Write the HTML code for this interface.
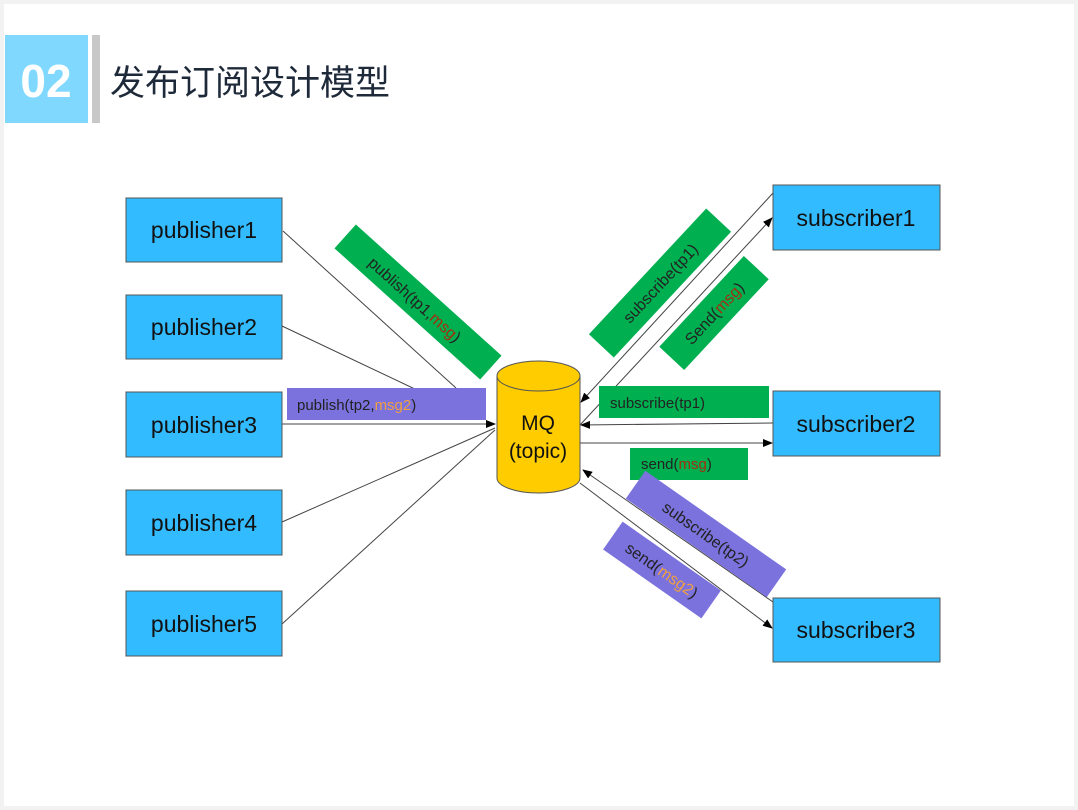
<!DOCTYPE html>
<html><head><meta charset="utf-8"><style>
html,body{margin:0;padding:0;background:#fff;}
svg{display:block;font-family:"Liberation Sans",Arial,sans-serif;}
</style></head><body>
<svg width="1078" height="810" viewBox="0 0 1078 810" xmlns="http://www.w3.org/2000/svg">
<defs>
<marker id="a" markerWidth="10" markerHeight="8" refX="9" refY="4" orient="auto" markerUnits="userSpaceOnUse"><path d="M0,0 L10,4 L0,8 z" fill="#000"/></marker>
</defs>
<rect x="0" y="0" width="1078" height="810" fill="#f2f2f2"/>
<rect x="4" y="4" width="1070" height="802" fill="#fff"/>
<rect x="5" y="35" width="83" height="88" fill="#80d8ff"/>
<rect x="92" y="35" width="8" height="88" fill="#c8c8c8"/>
<text x="46" y="97" font-size="46" font-weight="bold" fill="#fff" text-anchor="middle" font-family="Liberation Sans, sans-serif">02</text>
<text x="110" y="95" font-size="35" fill="#1e2a3a" font-family="Liberation Sans, Noto Sans CJK SC, sans-serif">发布订阅设计模型</text>

<g stroke="#444" stroke-width="1" fill="none">
<line x1="283" y1="231" x2="456" y2="388"/>
<line x1="282" y1="326" x2="417" y2="390"/>
<line x1="282" y1="424" x2="495" y2="424" marker-end="url(#a)"/>
<line x1="282" y1="522" x2="495" y2="428"/>
<line x1="282" y1="624" x2="495" y2="430"/>
<line x1="773" y1="193" x2="581" y2="402" marker-end="url(#a)"/>
<line x1="580" y1="425" x2="772" y2="218" marker-end="url(#a)"/>
<line x1="773" y1="423" x2="581" y2="425" marker-end="url(#a)"/>
<line x1="580" y1="443" x2="772" y2="443" marker-end="url(#a)"/>
<line x1="773" y1="602" x2="583" y2="470" marker-end="url(#a)"/>
<line x1="580" y1="483" x2="772" y2="628" marker-end="url(#a)"/>
</g>

<g fill="#33bbff" stroke="#555" stroke-width="1">
<rect x="126" y="198" width="156" height="64"/>
<rect x="126" y="295" width="156" height="64"/>
<rect x="126" y="392" width="156" height="65"/>
<rect x="126" y="490" width="156" height="65"/>
<rect x="126" y="591" width="156" height="65"/>
<rect x="773" y="185" width="167" height="65"/>
<rect x="773" y="391" width="167" height="65"/>
<rect x="773" y="598" width="167" height="64"/>
</g>
<g font-size="23" fill="#111" text-anchor="middle">
<text x="204" y="238">publisher1</text>
<text x="204" y="335">publisher2</text>
<text x="204" y="433">publisher3</text>
<text x="204" y="531">publisher4</text>
<text x="204" y="632">publisher5</text>
<text x="856" y="226">subscriber1</text>
<text x="856" y="432">subscriber2</text>
<text x="856" y="638">subscriber3</text>
</g>

<path d="M497,376 L497,478 A41.5,15 0 0 0 580,478 L580,376" fill="#ffcc00" stroke="#555"/>
<ellipse cx="538.5" cy="376" rx="41.5" ry="15" fill="#ffcc00" stroke="#555"/>
<text x="538" y="430" font-size="21" text-anchor="middle" fill="#111">MQ</text>
<text x="538" y="458" font-size="21" text-anchor="middle" fill="#111">(topic)</text>

<g font-size="16" fill="#222">
<g transform="translate(418,302) rotate(42)"><rect x="-98" y="-16" width="196" height="32" fill="#00b050"/><text x="-4" y="6" text-anchor="middle">publish(tp1,<tspan fill="#a03010">msg</tspan>)</text></g>
<rect x="287" y="388" width="199" height="32" fill="#7b72dd"/><text x="297" y="410" font-size="15">publish(tp2,<tspan fill="#f0a040">msg2</tspan>)</text>
<g transform="translate(660,283) rotate(-47)"><rect x="-86" y="-17" width="172" height="34" fill="#00b050"/><text x="0" y="6" text-anchor="middle">subscribe(tp1)</text></g>
<g transform="translate(714,313) rotate(-47)"><rect x="-62" y="-17" width="124" height="34" fill="#00b050"/><text x="0" y="6" text-anchor="middle">Send(<tspan fill="#a03010">msg</tspan>)</text></g>
<rect x="599" y="386" width="170" height="32" fill="#00b050"/><text x="610" y="408" font-size="15">subscribe(tp1)</text>
<rect x="630" y="448" width="118" height="32" fill="#00b050"/><text x="641" y="469" font-size="15">send(<tspan fill="#a03010">msg</tspan>)</text>
<g transform="translate(706,534) rotate(35)"><rect x="-86" y="-17" width="172" height="34" fill="#7b72dd"/><text x="0" y="6" text-anchor="middle">subscribe(tp2)</text></g>
<g transform="translate(662,570) rotate(35)"><rect x="-60" y="-17" width="120" height="34" fill="#7b72dd"/><text x="0" y="6" text-anchor="middle">send(<tspan fill="#f0a040">msg2</tspan>)</text></g>
</g>
</svg>
</body></html>
